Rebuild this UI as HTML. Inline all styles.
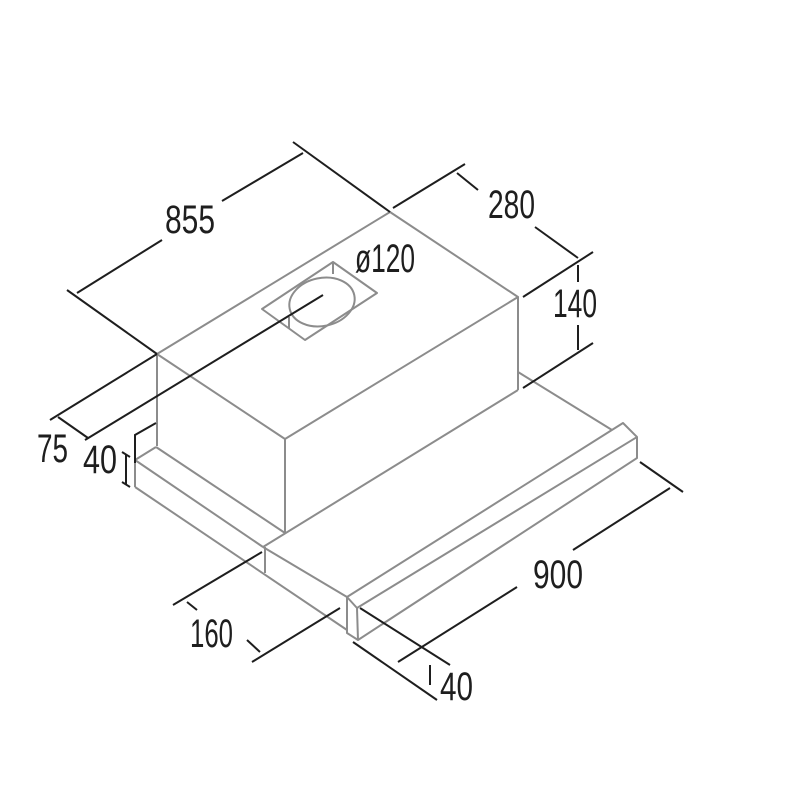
<!DOCTYPE html>
<html><head><meta charset="utf-8"><style>html,body{margin:0;padding:0;background:#fff}svg{display:block}</style></head><body>
<svg width="800" height="800" viewBox="0 0 800 800" xmlns="http://www.w3.org/2000/svg">
<g fill="none" stroke="#8c8c8c" stroke-width="2" stroke-linejoin="round">
<polygon points="157,354 390,212 518,297 285,439"/>
<line x1="157" y1="354" x2="157" y2="446"/>
<line x1="285" y1="439" x2="285" y2="533"/>
<line x1="518" y1="297" x2="518" y2="390"/>
<line x1="518" y1="390" x2="263" y2="547"/>
<line x1="156" y1="447" x2="285" y2="533"/>
<line x1="135" y1="460" x2="156" y2="447"/>
<line x1="135" y1="460" x2="263" y2="547"/>
<line x1="135" y1="460" x2="135" y2="487"/>
<line x1="135" y1="487" x2="347" y2="630"/>
<line x1="265" y1="547" x2="265" y2="573"/>
<line x1="263" y1="547" x2="347" y2="597"/>
<line x1="518" y1="372" x2="612" y2="430"/>
<polyline points="347,597 623,423 637,437 637,458 358,640 347,633 347,597"/>
<polyline points="347,597 357,608 637,437"/>
<line x1="357" y1="608" x2="358" y2="640"/>
<polygon points="262,309 333,262 377,293 305,340"/>
<ellipse cx="322" cy="302" rx="33" ry="24" transform="rotate(-12 322 302)"/>
<line x1="333" y1="262" x2="333" y2="274"/>
<line x1="289" y1="317" x2="289" y2="328"/>
</g>
<g fill="none" stroke="#1e1e1e" stroke-width="2">
<line x1="77" y1="293" x2="162" y2="240"/>
<line x1="222" y1="201" x2="303" y2="153"/>
<line x1="67" y1="290" x2="157" y2="354"/>
<line x1="293" y1="142" x2="390" y2="212"/>
<line x1="157" y1="354" x2="50" y2="420"/>
<line x1="323" y1="295" x2="85" y2="440"/>
<line x1="58" y1="417" x2="88" y2="438"/>
<polyline points="156,423 135,435 135,463"/>
<line x1="122" y1="452" x2="130" y2="457"/>
<line x1="122" y1="482" x2="130" y2="487"/>
<line x1="126" y1="455" x2="126" y2="484"/>
<line x1="393" y1="208" x2="465" y2="164"/>
<line x1="457" y1="173" x2="478" y2="190"/>
<line x1="535" y1="227" x2="578" y2="258"/>
<line x1="523" y1="297" x2="593" y2="252"/>
<line x1="578" y1="265" x2="578" y2="282"/>
<line x1="578" y1="325" x2="578" y2="350"/>
<line x1="523" y1="388" x2="593" y2="343"/>
<line x1="640" y1="462" x2="683" y2="492"/>
<line x1="670" y1="488" x2="573" y2="550"/>
<line x1="517" y1="587" x2="398" y2="662"/>
<line x1="353" y1="642" x2="437" y2="700"/>
<line x1="360" y1="608" x2="450" y2="665"/>
<line x1="430" y1="665" x2="430" y2="685"/>
<line x1="262" y1="552" x2="173" y2="605"/>
<line x1="187" y1="602" x2="197" y2="610"/>
<line x1="247" y1="640" x2="260" y2="652"/>
<line x1="340" y1="608" x2="252" y2="662"/>
</g>
<g font-family="Liberation Sans, sans-serif" font-size="40" fill="#1e1e1e">
<text x="165" y="233" textLength="50" lengthAdjust="spacingAndGlyphs">855</text>
<text x="488" y="218" textLength="47" lengthAdjust="spacingAndGlyphs">280</text>
<text x="553" y="317" textLength="44" lengthAdjust="spacingAndGlyphs">140</text>
<text x="355" y="272" textLength="60" lengthAdjust="spacingAndGlyphs">ø120</text>
<text x="533" y="588" textLength="50" lengthAdjust="spacingAndGlyphs">900</text>
<text x="440" y="700" textLength="33" lengthAdjust="spacingAndGlyphs">40</text>
<text x="190" y="647" textLength="43" lengthAdjust="spacingAndGlyphs">160</text>
<text x="37" y="462" textLength="31" lengthAdjust="spacingAndGlyphs">75</text>
<text x="83" y="473" textLength="34" lengthAdjust="spacingAndGlyphs">40</text>
</g>
</svg>
</body></html>
